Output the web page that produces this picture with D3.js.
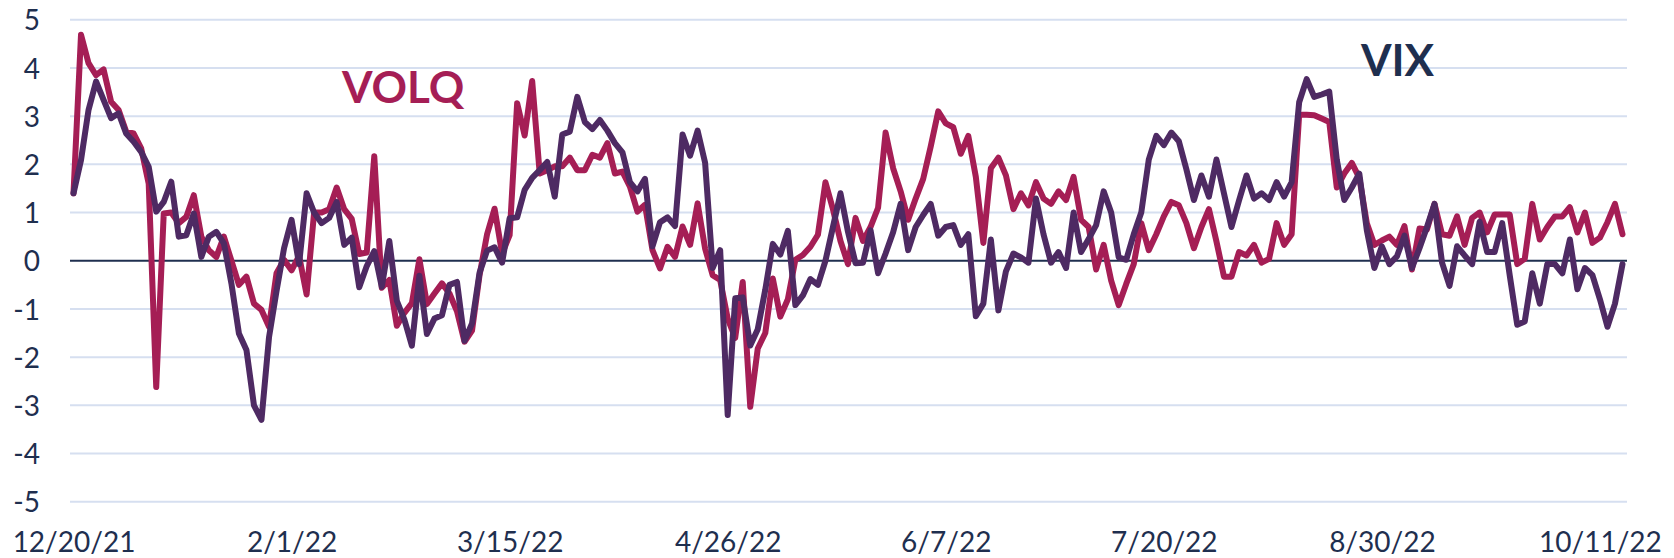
<!DOCTYPE html>
<html>
<head>
<meta charset="utf-8">
<script src="https://cdn.jsdelivr.net/npm/d3@7"></script>
<style>
  body { margin: 0; background: #fff; }
  .axis text { font-family: Lato, "Open Sans", sans-serif; font-size: 28px; fill: #1f2f4f; }
  .axis path, .axis line { display: none; }
</style>
</head>
<body>
<div id="chart"></div>
<script>

// daily readings, 12/20/21 .. 10/14/22 (trading days)
var volq = [
  1.40, 4.69, 4.10, 3.85, 3.97, 3.30, 3.13, 2.68, 2.64, 2.33,
  1.60, -2.62, 0.98, 1.00, 0.78, 0.91, 1.36, 0.50, 0.22, 0.08,
  0.50, 0.00, -0.50, -0.33, -0.89, -1.02, -1.37, -0.26, 0.02, -0.20,
  0.10, -0.70, 1.00, 1.00, 1.07, 1.52, 1.07, 0.87, 0.14, 0.17,
  2.17, -0.56, -0.40, -1.35, -1.08, -0.88, 0.03, -0.90, -0.68, -0.47,
  -0.68, -1.05, -1.68, -1.45, -0.30, 0.55, 1.08, 0.15, 0.53, 3.27,
  2.60, 3.73, 1.81, 1.88, 1.96, 1.96, 2.14, 1.88, 1.88, 2.20,
  2.14, 2.44, 1.81, 1.85, 1.54, 1.02, 1.16, 0.22, -0.16, 0.29,
  0.08, 0.71, 0.33, 1.19, 0.25, -0.30, -0.40, -1.20, -1.60, -0.44,
  -3.03, -1.82, -1.50, -0.37, -1.16, -0.80, 0.02, 0.12, 0.29, 0.54,
  1.63, 1.07, 0.41, -0.07, 0.89, 0.41, 0.70, 1.10, 2.66, 1.92,
  1.44, 0.85, 1.29, 1.70, 2.37, 3.10, 2.85, 2.77, 2.22, 2.59,
  1.74, 0.37, 1.92, 2.14, 1.77, 1.07, 1.40, 1.15, 1.63, 1.29,
  1.18, 1.44, 1.26, 1.74, 0.85, 0.70, -0.18, 0.33, -0.41, -0.92,
  -0.48, -0.07, 0.78, 0.22, 0.55, 0.92, 1.22, 1.15, 0.78, 0.26,
  0.70, 1.07, 0.40, -0.33, -0.33, 0.18, 0.11, 0.33, -0.04, 0.04,
  0.78, 0.33, 0.55, 3.03, 3.03, 3.02, 2.95, 2.88, 1.52, 1.81,
  2.03, 1.72, 0.78, 0.33, 0.42, 0.50, 0.33, 0.72, -0.18, 0.67,
  0.65, 1.18, 0.55, 0.52, 0.92, 0.33, 0.89, 1.00, 0.59, 0.96,
  0.96, 0.96, -0.07, 0.04, 1.18, 0.44, 0.70, 0.92, 0.92, 1.11,
  0.59, 1.00, 0.37, 0.48, 0.80, 1.18, 0.55
];

var vix = [
  1.40, 2.09, 3.13, 3.72, 3.34, 2.96, 3.06, 2.64, 2.47, 2.26,
  1.95, 1.02, 1.22, 1.64, 0.50, 0.53, 0.98, 0.08, 0.50, 0.60,
  0.36, -0.47, -1.51, -1.85, -3.00, -3.30, -1.59, -0.63, 0.26, 0.85,
  -0.07, 1.40, 1.00, 0.78, 0.89, 1.22, 0.33, 0.48, -0.55, -0.11,
  0.20, -0.54, 0.41, -0.83, -1.22, -1.76, -0.31, -1.52, -1.20, -1.13,
  -0.50, -0.44, -1.66, -1.30, -0.25, 0.21, 0.28, -0.04, 0.88, 0.90,
  1.47, 1.72, 1.88, 2.05, 1.33, 2.62, 2.68, 3.40, 2.88, 2.73,
  2.92, 2.70, 2.44, 2.25, 1.63, 1.44, 1.70, 0.30, 0.80, 0.90,
  0.72, 2.62, 2.18, 2.70, 2.03, -0.15, 0.22, -3.20, -0.78, -0.76,
  -1.76, -1.42, -0.60, 0.35, 0.13, 0.62, -0.92, -0.72, -0.38, -0.50,
  0.00, 0.70, 1.40, 0.60, -0.05, -0.04, 0.63, -0.26, 0.15, 0.59,
  1.18, 0.22, 0.70, 0.95, 1.18, 0.52, 0.70, 0.74, 0.33, 0.55,
  -1.15, -0.89, 0.44, -1.03, -0.22, 0.15, 0.07, -0.04, 1.29, 0.55,
  -0.04, 0.18, -0.15, 1.00, 0.18, 0.45, 0.74, 1.44, 1.00, 0.07,
  0.02, 0.55, 1.00, 2.10, 2.59, 2.40, 2.66, 2.48, 1.90, 1.26,
  1.77, 1.33, 2.10, 1.40, 0.70, 1.25, 1.77, 1.29, 1.40, 1.26,
  1.63, 1.33, 1.63, 3.29, 3.77, 3.40, 3.45, 3.51, 2.10, 1.26,
  1.52, 1.81, 0.63, -0.15, 0.30, -0.07, 0.09, 0.52, -0.15, 0.26,
  0.70, 1.18, -0.04, -0.52, 0.30, 0.11, -0.07, 0.81, 0.18, 0.18,
  0.78, -0.30, -1.33, -1.26, -0.26, -0.89, -0.07, -0.07, -0.26, 0.44,
  -0.59, -0.15, -0.30, -0.80, -1.37, -0.89, -0.07
];

// category positions of the date labels (every 29th trading day)
var tickIndex = [0, 29, 58, 87, 116, 145, 174, 203];
var tickLabels = ["12/20/21", "2/1/22", "3/15/22", "4/26/22", "6/7/22", "7/20/22", "8/30/22", "10/11/22"];
var yTicks = [-5, -4, -3, -2, -1, 0, 1, 2, 3, 4, 5];

var W = 1674, H = 558;

var svg = d3.select("#chart")
  .append("svg")
    .attr("width", W)
    .attr("height", H);

var xScale = d3.scaleLinear()
  .domain([0, volq.length - 1])
  .range([73.5, 1622.5]);

var yScale = d3.scaleLinear()
  .domain([-5, 5])
  .range([501.7, 19.8]);

// gridlines
svg.append("g")
  .selectAll("line")
  .data(yTicks.filter(function(d){ return d !== 0; }))
  .enter().append("line")
    .attr("x1", 70)
    .attr("x2", 1627)
    .attr("y1", function(d){ return yScale(d); })
    .attr("y2", function(d){ return yScale(d); })
    .attr("stroke", "#d6dff0")
    .attr("stroke-width", 2);

// y axis labels (plain hyphen, like the original)
svg.append("g")
  .attr("class", "axis")
  .attr("transform", "translate(40,0)")
  .call(d3.axisLeft(yScale).tickValues(yTicks).tickSize(0).tickPadding(0)
    .tickFormat(function(d){ return String(d); }))
  .selectAll("text")
    .attr("dy", "0.36em");

// x axis labels
svg.append("g")
  .attr("class", "axis")
  .attr("transform", "translate(0,552)")
  .call(d3.axisBottom(xScale).tickValues(tickIndex).tickSize(0).tickPadding(0)
    .tickFormat(function(d, i){ return tickLabels[i]; }))
  .selectAll("text")
    .attr("dy", "0");

// zero line
svg.append("line")
  .attr("x1", 70)
  .attr("x2", 1627)
  .attr("y1", yScale(0))
  .attr("y2", yScale(0))
  .attr("stroke", "#1f2f4f")
  .attr("stroke-width", 2);

var line = d3.line()
  .x(function(d, i){ return xScale(i); })
  .y(function(d){ return yScale(d); });

svg.append("path")
  .datum(volq)
  .attr("d", line)
  .attr("fill", "none")
  .attr("stroke", "#a51e55")
  .attr("stroke-width", 6)
  .attr("stroke-linejoin", "round")
  .attr("stroke-linecap", "round");

svg.append("path")
  .datum(vix)
  .attr("d", line)
  .attr("fill", "none")
  .attr("stroke", "#4e2a63")
  .attr("stroke-width", 6)
  .attr("stroke-linejoin", "round")
  .attr("stroke-linecap", "round");

// series labels
svg.append("text")
  .attr("x", 342)
  .attr("y", 103)
  .attr("font-family", "Lato, sans-serif")
  .attr("font-weight", "bold")
  .attr("font-size", 44)
  .attr("fill", "#a51e55")
  .text("VOLQ");

svg.append("text")
  .attr("x", 1361)
  .attr("y", 76)
  .attr("font-family", "Lato, sans-serif")
  .attr("font-weight", "bold")
  .attr("font-size", 44)
  .attr("fill", "#1f2f4f")
  .text("VIX");

</script>
</body>
</html>
